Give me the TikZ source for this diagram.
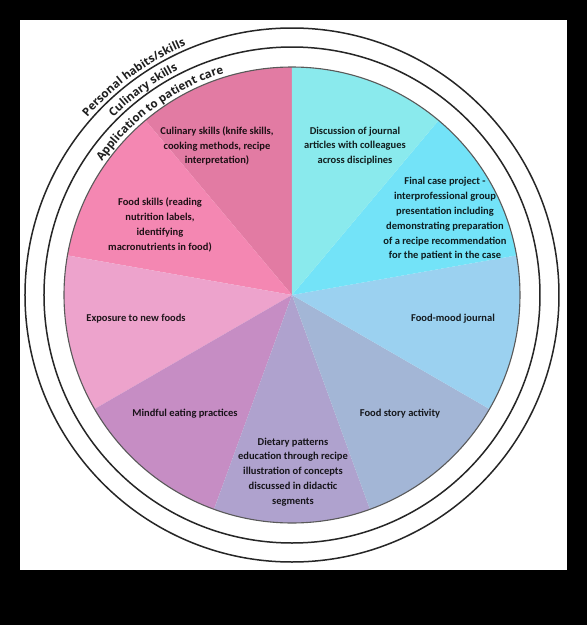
\documentclass[tikz,border=0pt]{standalone}
\usepackage{fontspec}
\setmainfont{Carlito}
\newfontfamily\ringfont{Open Sans}
\usetikzlibrary{decorations.text}
\definecolor{cCul}{HTML}{E27BA3}
\definecolor{cFsk}{HTML}{F487B2}
\definecolor{cExp}{HTML}{EDA3CC}
\definecolor{cMin}{HTML}{C68DC4}
\definecolor{cDie}{HTML}{AFA2CE}
\definecolor{cSto}{HTML}{A3B6D6}
\definecolor{cMoo}{HTML}{9BD1F0}
\definecolor{cFin}{HTML}{73E3F8}
\definecolor{cDis}{HTML}{8AEAED}
\begin{document}
\begin{tikzpicture}[x=1pt,y=1pt,
  sectortext/.style={font=\fontsize{10.5}{14.8}\selectfont\bfseries, align=center, text=black, text opacity=0.87, inner sep=0pt},
  pieedge/.style={draw=black!65, line width=1.1pt},
  ringline/.style={draw=black!85, line width=1.5pt},
  ringtext/.style={decorate, decoration={text along path, text align=center, text color=black!88, text={|\ringfont\bfseries\fontsize{11.5}{14}\selectfont|#1}}}
]
\useasboundingbox (-292,-330) rectangle (295,295);
\fill[black] (-292,-330) rectangle (295,295);
\fill[white] (-272,-275) rectangle (275,275);
\coordinate (O) at (0,0);
% sectors
\fill[cCul] (O) -- (90:228) arc[start angle=90, end angle=130, radius=228] -- cycle;
\fill[cFsk] (O) -- (130:228) arc[start angle=130, end angle=170, radius=228] -- cycle;
\fill[cExp] (O) -- (170:228) arc[start angle=170, end angle=210, radius=228] -- cycle;
\fill[cMin] (O) -- (210:228) arc[start angle=210, end angle=250, radius=228] -- cycle;
\fill[cDie] (O) -- (250:228) arc[start angle=250, end angle=290, radius=228] -- cycle;
\fill[cSto] (O) -- (290:228) arc[start angle=290, end angle=330, radius=228] -- cycle;
\fill[cMoo] (O) -- (330:228) arc[start angle=330, end angle=370, radius=228] -- cycle;
\fill[cFin] (O) -- (10:228) arc[start angle=10, end angle=50, radius=228] -- cycle;
\fill[cDis] (O) -- (50:228) arc[start angle=50, end angle=90, radius=228] -- cycle;
% circles
\draw[pieedge] (O) circle[radius=228];
\draw[ringline] (O) circle[radius=248];
\draw[ringline] (O) circle[radius=267];
% ring labels
\path[ringtext={Application to patient care}] (160:232) arc[start angle=160, end angle=92, radius=232];
\path[ringtext={Culinary skills}] (160:252) arc[start angle=160, end angle=92, radius=252];
\path[ringtext={Personal habits/skills}] (160:271) arc[start angle=160, end angle=92, radius=271];
% sector labels
\node[sectortext] (tcul) at (-75,149) {Culinary skills (knife skills,\\cooking methods, recipe\\interpretation)};
\node[sectortext] (tfsk) at (-132,70) {Food skills (reading\\nutrition labels,\\identifying\\macronutrients in food)};
\node[sectortext] (texp) at (-156,-24) {Exposure to new foods};
\node[sectortext] (tmin) at (-107,-119) {Mindful eating practices};
\node[sectortext] (tdie) at (1,-177) {Dietary patterns\\education through recipe\\illustration of concepts\\discussed in didactic\\segments};
\node[sectortext] (tsto) at (108,-119) {Food story activity};
\node[sectortext] (tmoo) at (161,-24) {Food-mood journal};
\node[sectortext] (tfin) at (153,76) {Final case project -\\interprofessional group\\presentation including\\demonstrating preparation\\of a recipe recommendation\\for the patient in the case};
\node[sectortext] (tdis) at (63,149) {Discussion of journal\\articles with colleagues\\across disciplines};
\end{tikzpicture}
\end{document}
